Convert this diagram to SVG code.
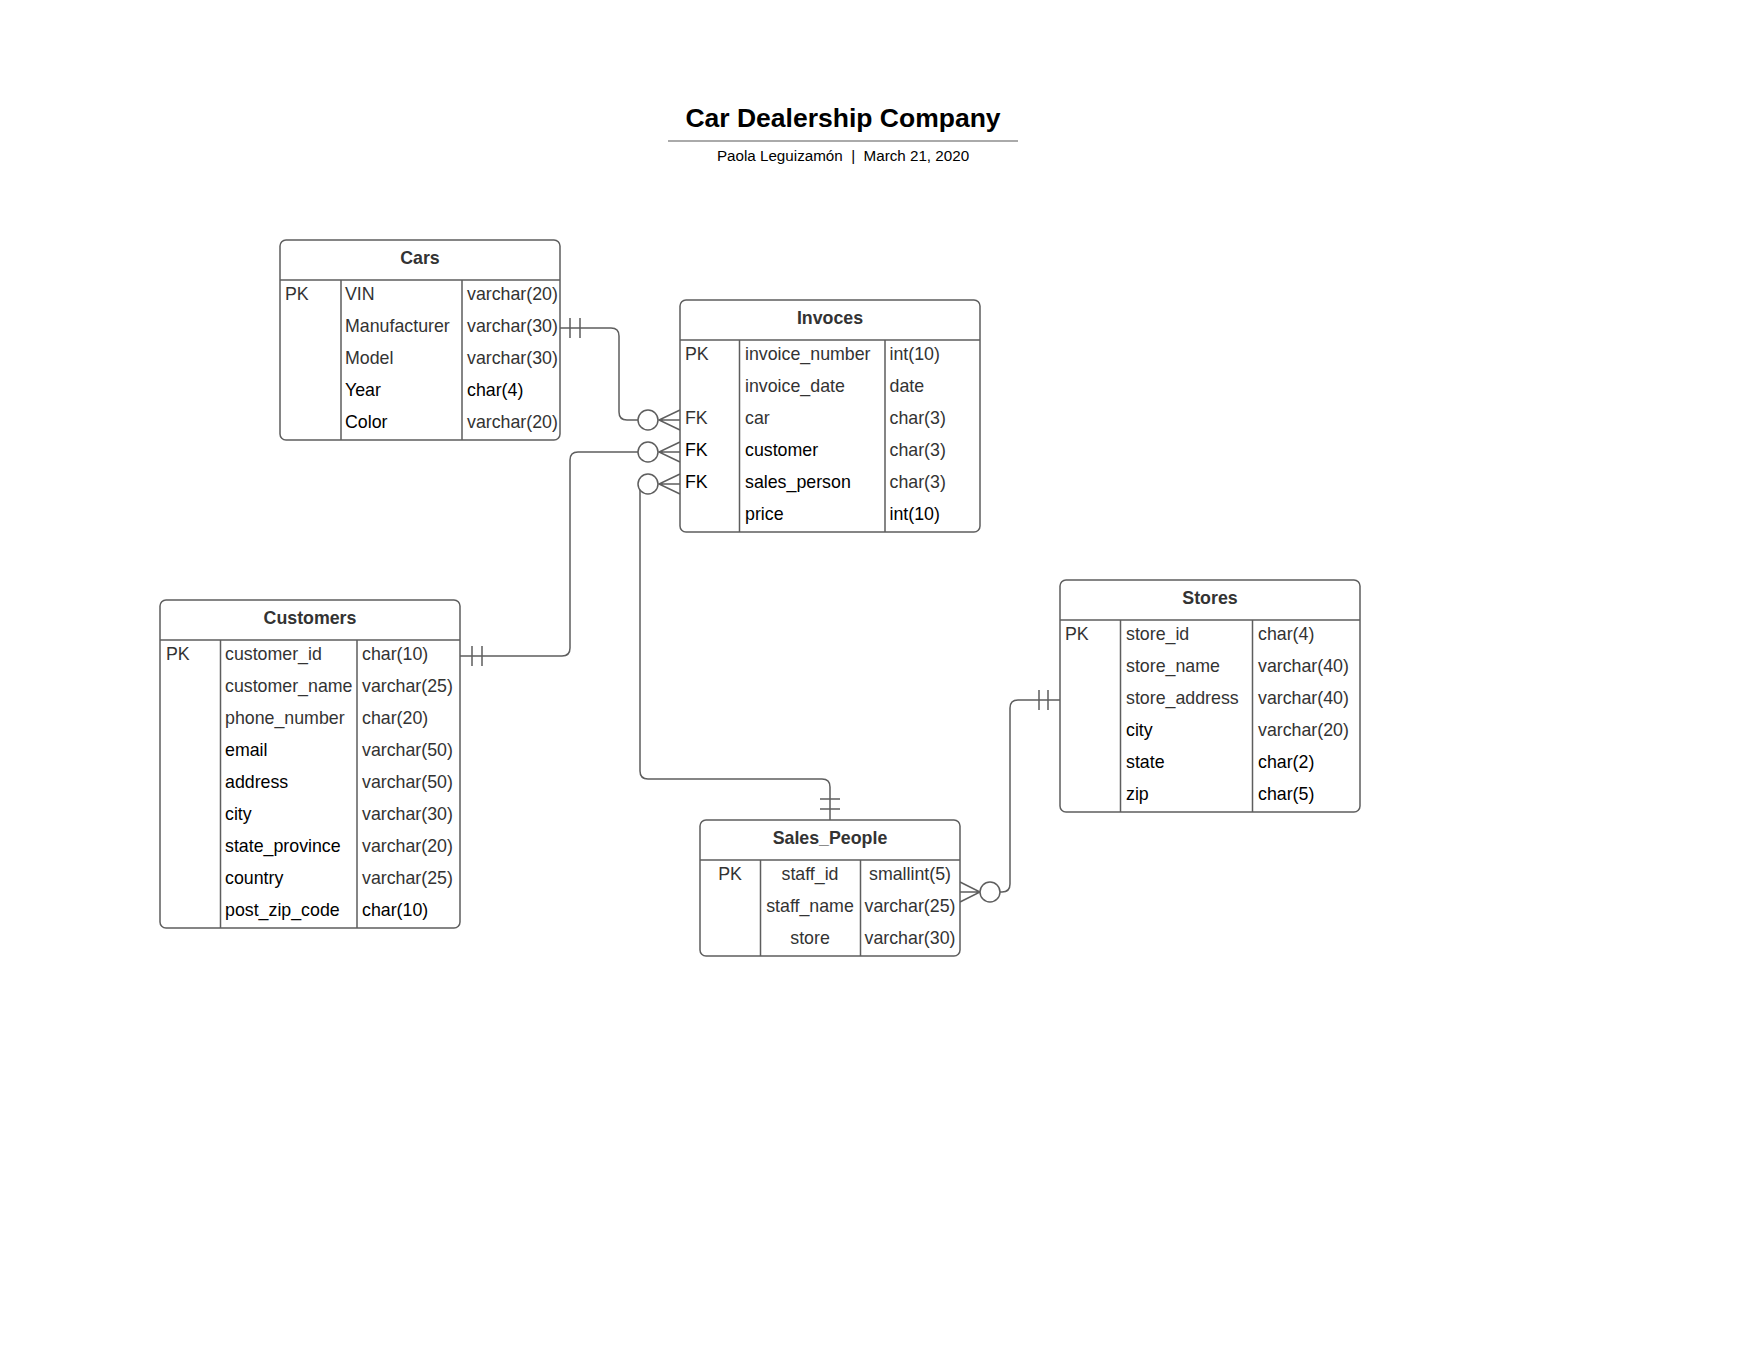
<svg xmlns="http://www.w3.org/2000/svg" width="1760" height="1360" viewBox="0 0 1760 1360">
<style>
.box{fill:#fff;stroke:#5e5e5e;stroke-width:1.5}
.dv{stroke:#5e5e5e;stroke-width:1.5;fill:none}
text{font-family:"Liberation Sans",Arial,sans-serif}
.hdr{font-size:17.8px;font-weight:bold;fill:#333;text-anchor:middle}
.t{font-size:17.8px;fill:#333}
.k{fill:#000}
.c{text-anchor:middle}
.conn{fill:none;stroke:#5e5e5e;stroke-width:1.5}
.circ{fill:#fff;stroke:#5e5e5e;stroke-width:1.5}
</style>
<rect width="1760" height="1360" fill="#fff"/>
<g id="title">
<text x="843" y="127" text-anchor="middle" style="font-size:26.5px;font-weight:bold;fill:#000">Car Dealership Company</text>
<path d="M668,141 H1018" stroke="#aaa" stroke-width="2"/>
<text x="843" y="161" text-anchor="middle" xml:space="preserve" style="font-size:15.2px;fill:#000">Paola Leguizamón  |  March 21, 2020</text>
</g>
<g id="connectors">
<path class="conn" d="M560,328 H611 Q619,328 619,336 V412 Q619,420 627,420 H638"/>
<path class="conn" d="M570,318 V338 M580,318 V338"/>
<path class="conn" d="M680,410 L659,420 L680,430 M659,420 H680"/>
<path class="conn" d="M460,656 H562 Q570,656 570,648 V460 Q570,452 578,452 H638"/>
<path class="conn" d="M472,646 V666 M482,646 V666"/>
<path class="conn" d="M680,442 L659,452 L680,462 M659,452 H680"/>
<path class="conn" d="M830,820 V787 Q830,779 822,779 H648 Q640,779 640,771 V484"/>
<path class="conn" d="M820,799 H840 M820,809 H840"/>
<path class="conn" d="M680,474 L659,484 L680,494 M659,484 H680"/>
<path class="conn" d="M1060,700 H1018 Q1010,700 1010,708 V884 Q1010,892 1002,892 H1000"/>
<path class="conn" d="M1039,690 V710 M1048,690 V710"/>
<path class="conn" d="M960,882 L980,892 L960,902 M960,892 H980"/>
<circle class="circ" cx="648" cy="420" r="10"/>
<circle class="circ" cx="648" cy="452" r="10"/>
<circle class="circ" cx="648" cy="484" r="10"/>
<circle class="circ" cx="990" cy="892" r="10"/>
</g>
<g id="cars">
<rect class="box" x="280" y="240" width="280" height="200" rx="6"/>
<path class="dv" d="M280,280 H560 M341,280 V440 M462,280 V440"/>
<text class="hdr" x="420" y="264">Cars</text>
<text class="t" x="285" y="300">PK</text>
<text class="t" x="345" y="300">VIN</text><text class="t" x="467" y="300">varchar(20)</text>
<text class="t" x="345" y="332">Manufacturer</text><text class="t" x="467" y="332">varchar(30)</text>
<text class="t" x="345" y="364">Model</text><text class="t" x="467" y="364">varchar(30)</text>
<text class="t k" x="345" y="396">Year</text><text class="t k" x="467" y="396">char(4)</text>
<text class="t k" x="345" y="428">Color</text><text class="t" x="467" y="428">varchar(20)</text>
</g>
<g id="invoces">
<rect class="box" x="680" y="300" width="300" height="232" rx="6"/>
<path class="dv" d="M680,340 H980 M739.5,340 V532 M885,340 V532"/>
<text class="hdr" x="830" y="324">Invoces</text>
<text class="t" x="685" y="360">PK</text><text class="t" x="745" y="360">invoice_number</text><text class="t" x="889.5" y="360">int(10)</text>
<text class="t" x="745" y="392">invoice_date</text><text class="t" x="889.5" y="392">date</text>
<text class="t" x="685" y="424">FK</text><text class="t" x="745" y="424">car</text><text class="t" x="889.5" y="424">char(3)</text>
<text class="t k" x="685" y="456">FK</text><text class="t k" x="745" y="456">customer</text><text class="t" x="889.5" y="456">char(3)</text>
<text class="t k" x="685" y="488">FK</text><text class="t k" x="745" y="488">sales_person</text><text class="t" x="889.5" y="488">char(3)</text>
<text class="t k" x="745" y="520">price</text><text class="t k" x="889.5" y="520">int(10)</text>
</g>
<g id="customers">
<rect class="box" x="160" y="600" width="300" height="328" rx="6"/>
<path class="dv" d="M160,640 H460 M220.5,640 V928 M357,640 V928"/>
<text class="hdr" x="310" y="624">Customers</text>
<text class="t" x="166" y="660">PK</text><text class="t" x="225" y="660">customer_id</text><text class="t" x="362" y="660">char(10)</text>
<text class="t" x="225" y="692">customer_name</text><text class="t" x="362" y="692">varchar(25)</text>
<text class="t" x="225" y="724">phone_number</text><text class="t" x="362" y="724">char(20)</text>
<text class="t k" x="225" y="756">email</text><text class="t" x="362" y="756">varchar(50)</text>
<text class="t k" x="225" y="788">address</text><text class="t" x="362" y="788">varchar(50)</text>
<text class="t k" x="225" y="820">city</text><text class="t" x="362" y="820">varchar(30)</text>
<text class="t k" x="225" y="852">state_province</text><text class="t" x="362" y="852">varchar(20)</text>
<text class="t k" x="225" y="884">country</text><text class="t" x="362" y="884">varchar(25)</text>
<text class="t k" x="225" y="916">post_zip_code</text><text class="t k" x="362" y="916">char(10)</text>
</g>
<g id="stores">
<rect class="box" x="1060" y="580" width="300" height="232" rx="6"/>
<path class="dv" d="M1060,620 H1360 M1120.5,620 V812 M1252.5,620 V812"/>
<text class="hdr" x="1210" y="604">Stores</text>
<text class="t" x="1065" y="640">PK</text><text class="t" x="1126" y="640">store_id</text><text class="t" x="1258" y="640">char(4)</text>
<text class="t" x="1126" y="672">store_name</text><text class="t" x="1258" y="672">varchar(40)</text>
<text class="t" x="1126" y="704">store_address</text><text class="t" x="1258" y="704">varchar(40)</text>
<text class="t k" x="1126" y="736">city</text><text class="t" x="1258" y="736">varchar(20)</text>
<text class="t k" x="1126" y="768">state</text><text class="t k" x="1258" y="768">char(2)</text>
<text class="t k" x="1126" y="800">zip</text><text class="t k" x="1258" y="800">char(5)</text>
</g>
<g id="sales_people">
<rect class="box" x="700" y="820" width="260" height="136" rx="6"/>
<path class="dv" d="M700,860 H960 M760.5,860 V956 M860.5,860 V956"/>
<text class="hdr" x="830" y="844">Sales_People</text>
<text class="t c" x="730" y="880">PK</text><text class="t c" x="810" y="880">staff_id</text><text class="t c" x="910" y="880">smallint(5)</text>
<text class="t c" x="810" y="912">staff_name</text><text class="t c" x="910" y="912">varchar(25)</text>
<text class="t c" x="810" y="944">store</text><text class="t c" x="910" y="944">varchar(30)</text>
</g>
</svg>
